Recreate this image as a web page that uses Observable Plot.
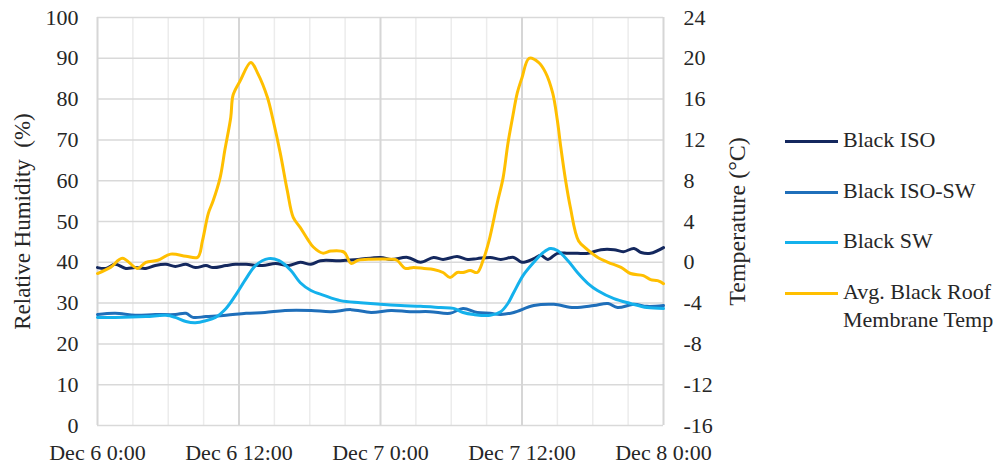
<!DOCTYPE html>
<html>
<head>
<meta charset="utf-8">
<script src="https://cdn.jsdelivr.net/npm/d3@7"></script>
<script src="https://cdn.jsdelivr.net/npm/@observablehq/plot@0.6"></script>
<style>
  html, body { margin: 0; padding: 0; background: #fff; }
  #wrap { position: relative; width: 1006px; height: 466px; font-family: "Liberation Serif", "Times New Roman", serif; color: #262626; }
  #legend { position: absolute; left: 785px; top: 126px; font-size: 22px; line-height: 28px; }
  .row { display: flex; align-items: flex-start; height: 50.5px; }
  .sw { width: 53px; height: 3px; margin-top: 14px; margin-right: 5px; flex: none; }
</style>
</head>
<body>
<div id="wrap"><div id="chart"></div><div id="legend"></div></div>
<script>
// hours since Dec 6 0:00, value
const blackISO = [[0,38.7],[0.7,38.5],[1.5,39.5],[2.4,38.5],[3.2,38.7],[4.1,38.5],[4.9,39.2],[5.8,39.5],[6.6,39.0],[7.5,39.5],[8.3,38.7],[9.2,39.2],[9.8,38.7],[10.9,39.2],[11.7,39.5],[12.6,39.5],[14.0,39.2],[15.1,39.7],[16.2,39.2],[17.2,40.0],[18.1,39.5],[18.9,40.4],[20.6,40.4],[22.1,40.7],[24.0,41.2],[24.9,40.7],[26.3,41.2],[27.4,40.0],[28.5,41.2],[29.3,40.7],[30.5,41.4],[31.4,40.7],[32.2,40.9],[33.3,41.2],[34.2,40.7],[35.3,41.2],[36.0,40.0],[37.0,40.9],[37.6,41.7],[38.2,40.7],[39.0,42.2],[39.9,42.2],[40.7,42.2],[41.6,42.2],[42.7,43.1],[43.8,43.1],[44.6,42.6],[45.5,43.4],[46.1,42.4],[46.9,42.2],[48.0,43.6]];
const blackISOSW = [[0,27.2],[1.5,27.5],[3.2,27.0],[4.9,27.2],[6.6,27.2],[7.5,27.5],[8.1,26.5],[9.2,26.7],[10.9,27.0],[12.6,27.5],[14.2,27.7],[15.9,28.2],[18.1,28.2],[19.8,27.9],[21.5,28.4],[23.2,27.7],[24.9,28.2],[26.5,27.9],[28.2,27.9],[29.9,27.5],[31.0,28.7],[32.2,27.7],[33.3,27.5],[34.2,27.2],[35.3,27.7],[37.0,29.4],[38.7,29.7],[40.4,28.9],[42.1,29.4],[43.3,29.9],[44.1,28.9],[45.5,29.7],[46.6,29.2],[48.0,29.4]];
const blackSW = [[0,26.5],[1.5,26.5],[4.1,26.7],[5.8,27.0],[6.6,26.5],[7.5,25.5],[8.3,25.2],[9.2,25.7],[10.0,26.5],[10.9,28.7],[11.7,31.9],[12.6,36.0],[13.4,39.2],[14.5,40.9],[15.4,40.4],[16.4,38.0],[17.2,35.0],[18.1,33.1],[19.2,31.9],[20.6,30.6],[22.3,30.1],[24.0,29.7],[25.7,29.4],[27.4,29.2],[29.1,28.9],[30.2,28.7],[31.0,27.7],[31.9,27.2],[33.3,27.0],[34.2,27.9],[34.8,29.9],[35.3,32.6],[36.1,36.8],[37.0,40.0],[37.8,42.4],[38.4,43.4],[39.0,42.9],[39.9,40.4],[40.7,37.5],[41.6,34.8],[42.4,33.1],[43.8,31.1],[45.2,29.9],[46.6,28.9],[48.0,28.7]];
// temperature in °C
const roofTemp = [[0,-1.1],[1.1,-0.5],[2.1,0.4],[3.4,-0.6],[4.1,0.0],[5.1,0.2],[6.2,0.8],[7.5,0.6],[8.5,0.5],[8.9,2.1],[9.4,4.8],[9.8,6.0],[10.4,8.3],[10.8,11.0],[11.3,14.2],[11.5,16.4],[12.1,17.8],[13.0,19.6],[13.6,18.5],[14.4,16.2],[14.9,13.9],[15.5,10.7],[16.1,7.0],[16.6,4.4],[17.2,3.4],[17.8,2.3],[18.3,1.5],[19.1,0.9],[19.8,1.1],[20.9,1.0],[21.5,-0.1],[22.1,0.2],[23.2,0.3],[24.9,0.3],[25.4,0.2],[26.1,-0.6],[26.8,-0.5],[27.7,-0.6],[28.5,-0.7],[29.3,-1.0],[29.9,-1.5],[30.5,-1.0],[31.0,-1.0],[31.6,-0.8],[32.2,-1.0],[32.7,0.2],[33.2,2.1],[33.9,5.8],[34.4,8.3],[34.8,11.6],[35.2,14.2],[35.6,16.6],[36.0,18.1],[36.6,20.0],[37.4,19.6],[38.0,18.6],[38.6,16.6],[39.0,13.9],[39.3,11.2],[39.7,8.0],[40.1,5.4],[40.8,2.1],[41.6,1.2],[42.4,0.5],[43.3,0.0],[44.4,-0.5],[45.2,-1.1],[46.3,-1.3],[46.9,-1.7],[47.5,-1.8],[48.0,-2.1]];

const xTickHours = [0, 12, 24, 36, 48];
const xTickLabels = ["Dec 6 0:00", "Dec 6 12:00", "Dec 7 0:00", "Dec 7 12:00", "Dec 8 0:00"];
const rhTicks = [0, 10, 20, 30, 40, 50, 60, 70, 80, 90, 100];
const tempTicks = [-16, -12, -8, -4, 0, 4, 8, 12, 16, 20, 24];
const minorHours = d3.range(0, 49, 3);
const seriesNames = ["Black ISO", "Black ISO-SW", "Black SW", "Avg. Black Roof Membrane Temp"];
const seriesColors = ["#14285e", "#1f6fba", "#14b1ec", "#ffbf00"];

const tempMin = -16, tempMax = 24;
const toRH = t => (t - tempMin) / (tempMax - tempMin) * 100;

const chart = Plot.plot({
  width: 1006,
  height: 466,
  marginLeft: 97,
  marginRight: 343,
  marginTop: 17,
  marginBottom: 41,
  style: { fontFamily: "Liberation Serif, Times New Roman, serif", fontSize: "22px", color: "#262626", background: "white", overflow: "visible" },
  x: { domain: [0, 48] },
  y: { domain: [0, 100] },
  marks: [
    Plot.ruleX(minorHours.filter(h => h % 12 !== 0), { stroke: "#ececec", strokeWidth: 1.5 }),
    Plot.ruleY(rhTicks, { stroke: "#d9d9d9", strokeWidth: 1.5 }),
    Plot.ruleX(xTickHours, { stroke: "#d6d6d6", strokeWidth: 2 }),
    Plot.axisX({ ticks: xTickHours, tickFormat: d => xTickLabels[xTickHours.indexOf(d)], tickSize: 0, tickPadding: 19, label: null }),
    Plot.axisY({ anchor: "left", ticks: rhTicks, tickSize: 0, tickPadding: 19, label: null }),
    Plot.axisY({ anchor: "right", ticks: rhTicks, tickFormat: d => String(tempTicks[rhTicks.indexOf(d)]), tickSize: 0, tickPadding: 20, label: null }),
    Plot.text(["Relative Humidity  (%)"], { frameAnchor: "left", textAnchor: "middle", dx: -75, rotate: -90, fontSize: 23, text: d => d }),
    Plot.text(["Temperature (°C)"], { frameAnchor: "right", textAnchor: "middle", dx: 74, rotate: -90, fontSize: 24, text: d => d }),
    Plot.line(blackISO, { x: d => d[0], y: d => d[1], stroke: seriesColors[0], strokeWidth: 3, curve: "catmull-rom" }),
    Plot.line(blackISOSW, { x: d => d[0], y: d => d[1], stroke: seriesColors[1], strokeWidth: 3, curve: "catmull-rom" }),
    Plot.line(blackSW, { x: d => d[0], y: d => d[1], stroke: seriesColors[2], strokeWidth: 3, curve: "catmull-rom" }),
    Plot.line(roofTemp, { x: d => d[0], y: d => toRH(d[1]), stroke: seriesColors[3], strokeWidth: 3, curve: "catmull-rom" })
  ]
});
document.getElementById("chart").appendChild(chart);

const legend = document.getElementById("legend");
seriesNames.forEach((name, i) => {
  const row = document.createElement("div");
  row.className = "row";
  const sw = document.createElement("div");
  sw.className = "sw";
  sw.style.background = seriesColors[i];
  const lab = document.createElement("div");
  lab.innerHTML = name === "Avg. Black Roof Membrane Temp" ? "Avg. Black Roof<br>Membrane Temp" : name;
  row.appendChild(sw);
  row.appendChild(lab);
  legend.appendChild(row);
});
</script>
</body>
</html>
